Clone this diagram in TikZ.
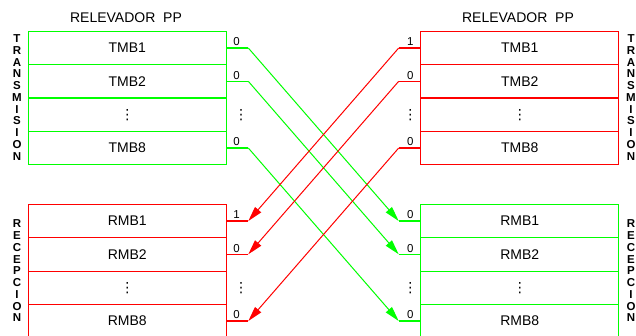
\documentclass[tikz,border=0pt]{standalone}
\usepackage{fontspec}
\setmainfont{Liberation Sans}
\newfontfamily\djv{DejaVu Sans}
\usetikzlibrary{arrows.meta}
\definecolor{cgreen}{RGB}{0,255,0}
\definecolor{cred}{RGB}{255,0,0}
\tikzset{
  row/.style={draw, line width=0.9pt, minimum width=198pt, minimum height=33.3pt, inner sep=0pt, font=\fontsize{14}{14}\selectfont},
  title/.style={font=\fontsize{14}{14}\selectfont, inner sep=0pt},
  bit/.style={font=\fontsize{11.5}{11.5}\selectfont, inner sep=0pt},
  vert/.style={font=\bfseries\fontsize{11.5}{11.75}\selectfont, align=center, inner sep=0pt},
  stub/.style={line width=1.4pt},
  diag/.style={line width=1pt},
  arr/.style={diag, -{Triangle[length=15pt,width=8pt]}},
  vd/.style={font=\djv\fontsize{14}{14}\selectfont, inner sep=0pt},
}
\begin{document}
\begin{tikzpicture}[x=1pt,y=-1pt]
\useasboundingbox (0,0) rectangle (636,336);
% titles
\node[title] (titL) at (126,18) {RELEVADOR\ \ PP};
\node[title] (titR) at (518,18) {RELEVADOR\ \ PP};
% vertical labels
\node[vert] (vtl) at (17,97.5) {T\\R\\A\\N\\S\\M\\I\\S\\I\\O\\N};
\node[vert] (vtr) at (631,97.5) {T\\R\\A\\N\\S\\M\\I\\S\\I\\O\\N};
\node[vert] (vrl) at (17,271) {R\\E\\C\\E\\P\\C\\I\\O\\N};
\node[vert] (vrr) at (631,271) {R\\E\\C\\E\\P\\C\\I\\O\\N};
% top-left box (green)
\begin{scope}[cgreen]
\node[row] (tl1) at (127.3,48) {};
\node[row] (tl2) at (127.3,81.3) {};
\node[row] (tl3) at (127.3,114.7) {};
\node[row] (tl4) at (127.3,148) {};
\draw[line width=1.8pt] (tl3.north west) -- (tl3.north east);
\end{scope}
\node[title] at (tl1) {TMB1};
\node[title] at (tl2) {TMB2};
\node[vd] at (tl3) {⋮};
\node[title] at (tl4) {TMB8};
% top-right box (red)
\begin{scope}[cred]
\node[row] (tr1) at (519.8,48) {};
\node[row] (tr2) at (519.8,81.3) {};
\node[row] (tr3) at (519.8,114.7) {};
\node[row] (tr4) at (519.8,148) {};
\draw[line width=1.8pt] (tr3.north west) -- (tr3.north east);
\end{scope}
\node[title] at (tr1) {TMB1};
\node[title] at (tr2) {TMB2};
\node[vd] at (tr3) {⋮};
\node[title] at (tr4) {TMB8};
% bottom-left box (red)
\begin{scope}[cred]
\node[row] (bl1) at (127.3,221) {};
\node[row] (bl2) at (127.3,254.3) {};
\node[row] (bl3) at (127.3,287.7) {};
\node[row] (bl4) at (127.3,321) {};
\end{scope}
\node[title] at (bl1) {RMB1};
\node[title] at (bl2) {RMB2};
\node[vd] at (bl3) {⋮};
\node[title] at (bl4) {RMB8};
% bottom-right box (green)
\begin{scope}[cgreen]
\node[row] (br1) at (519.8,221) {};
\node[row] (br2) at (519.8,254.3) {};
\node[row] (br3) at (519.8,287.7) {};
\node[row] (br4) at (519.8,321) {};
\end{scope}
\node[title] at (br1) {RMB1};
\node[title] at (br2) {RMB2};
\node[vd] at (br3) {⋮};
\node[title] at (br4) {RMB8};
% stub points
\coordinate (gs1) at (248.3,48);
\coordinate (gs2) at (248.3,81.3);
\coordinate (gs4) at (248.3,148);
\coordinate (rs1) at (398.7,48);
\coordinate (rs2) at (398.7,81.3);
\coordinate (rs4) at (398.7,148);
\coordinate (ge1) at (398.7,221);
\coordinate (ge2) at (398.7,254.3);
\coordinate (ge4) at (398.7,321);
\coordinate (re1) at (248.3,221);
\coordinate (re2) at (248.3,254.3);
\coordinate (re4) at (248.3,321);
% green connectors
\begin{scope}[cgreen]
\draw[stub] (tl1.east) -- (gs1);
\draw[stub] (tl2.east) -- (gs2);
\draw[stub] (tl4.east) -- (gs4);
\draw[arr] (gs1) -- (ge1);
\draw[arr] (gs2) -- (ge2);
\draw[arr] (gs4) -- (ge4);
\draw[stub] (ge1) -- (br1.west);
\draw[stub] (ge2) -- (br2.west);
\draw[stub] (ge4) -- (br4.west);
\end{scope}
% red connectors
\begin{scope}[cred]
\draw[stub] (tr1.west) -- (rs1);
\draw[stub] (tr2.west) -- (rs2);
\draw[stub] (tr4.west) -- (rs4);
\draw[arr] (rs1) -- (re1);
\draw[arr] (rs2) -- (re2);
\draw[arr] (rs4) -- (re4);
\draw[stub] (re1) -- (bl1.east);
\draw[stub] (re2) -- (bl2.east);
\draw[stub] (re4) -- (bl4.east);
\end{scope}
% bit labels
\node[bit] (b1) at (236.5,42) {0};
\node[bit] (b2) at (236.5,75.3) {0};
\node[bit] (b4) at (236.5,142) {0};
\node[vd] (bd1) at (241,114.7) {⋮};
\node[bit] (b5) at (410.3,42) {1};
\node[bit] (b6) at (410.3,75.3) {0};
\node[bit] (b8) at (410.3,142) {0};
\node[vd] (bd2) at (410.3,114.7) {⋮};
\node[bit] (b9) at (236.5,215) {1};
\node[bit] (b10) at (236.5,248.3) {0};
\node[bit] (b12) at (236.5,315) {0};
\node[vd] (bd3) at (241,287.7) {⋮};
\node[bit] (b13) at (410.3,215) {0};
\node[bit] (b14) at (410.3,248.3) {0};
\node[bit] (b16) at (410.3,315) {0};
\node[vd] (bd4) at (410.3,287.7) {⋮};
\end{tikzpicture}
\end{document}
